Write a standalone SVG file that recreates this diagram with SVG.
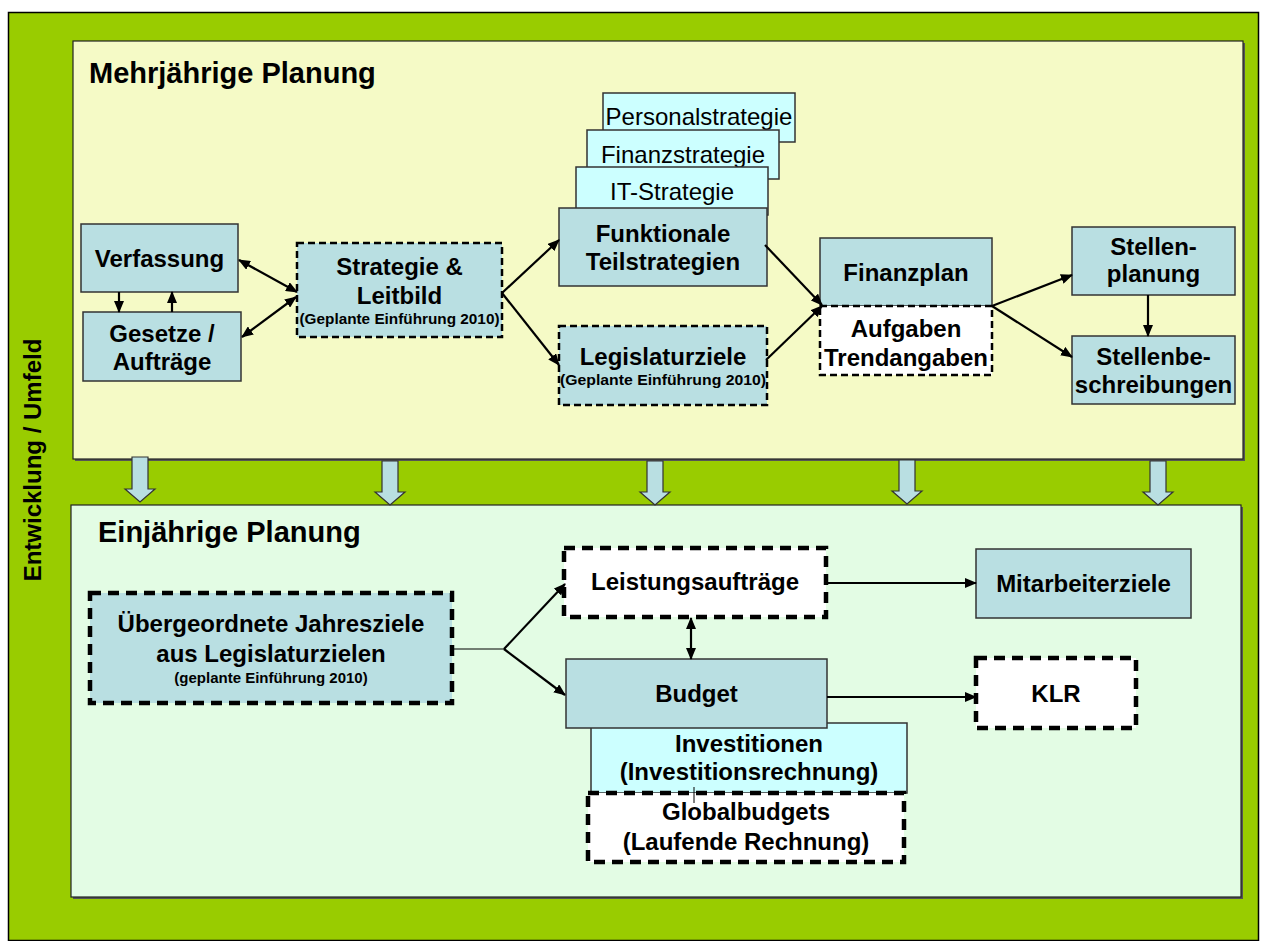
<svg xmlns="http://www.w3.org/2000/svg" width="1266" height="941" viewBox="0 0 1266 941">
<defs>
<marker id="ah" markerWidth="12" markerHeight="10" refX="11" refY="5" orient="auto" markerUnits="userSpaceOnUse">
<path d="M0,0 L12,5 L0,10 z" fill="#000"/>
</marker>
<marker id="as" markerWidth="12" markerHeight="10" refX="1" refY="5" orient="auto" markerUnits="userSpaceOnUse">
<path d="M12,0 L0,5 L12,10 z" fill="#000"/>
</marker>
<style>
text{font-family:"Liberation Sans",Arial,sans-serif;fill:#000}
.b{font-weight:bold;font-size:24px;text-anchor:middle}
.r{font-size:24px;text-anchor:middle}
.s{font-weight:bold;font-size:15px;text-anchor:middle}
.node{fill:#B9DFE2;stroke:#333;stroke-width:1.5}
.cyan{fill:#CCFFFF;stroke:#333;stroke-width:1.5}
.dash{fill:#B9DFE2;stroke:#000;stroke-width:2.5;stroke-dasharray:7,4}
.dashw{fill:#fff;stroke:#000;stroke-width:2.5;stroke-dasharray:7,4}
.thick{fill:#fff;stroke:#000;stroke-width:4.5;stroke-dasharray:11,7}
.thickb{fill:#B9DFE2;stroke:#000;stroke-width:4.5;stroke-dasharray:11,7}
.c{fill:none;stroke:#000;stroke-width:2.2}
.bl{fill:#B9DFE2;stroke:#333;stroke-width:1.2}
</style>
</defs>

<g id="background">
<rect x="8.5" y="12.5" width="1250" height="928" fill="#99CC00" stroke="#000" stroke-width="1.5"/>
<text transform="translate(41,460) rotate(-90)" class="b">Entwicklung / Umfeld</text>
</g>

<g id="panel-mehrjaehrig">
<rect x="75" y="43" width="1170" height="418" fill="#555"/>
<rect x="73" y="41" width="1170" height="418" fill="#F5FAC6" stroke="#222" stroke-width="1.2"/>
<text x="89" y="83" font-weight="bold" font-size="29">Mehrjährige Planung</text>
</g>

<g id="panel-einjaehrig">
<rect x="73" y="507" width="1170" height="392" fill="#555"/>
<rect x="71" y="505" width="1170" height="392" fill="#E3FCE4" stroke="#222" stroke-width="1.2"/>
<text x="98" y="542" font-weight="bold" font-size="29">Einjährige Planung</text>
</g>

<g id="block-arrows">
<polygon class="bl" points="132,457 148,457 148,489 155,489 140,502 125,489 132,489"/>
<polygon class="bl" points="382,461 398,461 398,492 405,492 390,505 375,492 382,492"/>
<polygon class="bl" points="647,461 663,461 663,492 670,492 655,505 640,492 647,492"/>
<polygon class="bl" points="899,460 915,460 915,491 922,491 907,504 892,491 899,491"/>
<polygon class="bl" points="1150,461 1166,461 1166,492 1173,492 1158,505 1143,492 1150,492"/>
</g>

<g id="node-verfassung">
<rect class="node" x="81" y="224" width="157" height="68"/>
<text class="b" x="159.5" y="267">Verfassung</text>
</g>
<g id="node-gesetze">
<rect class="node" x="83" y="312" width="158" height="69"/>
<text class="b" x="162" y="342">Gesetze /</text>
<text class="b" x="162" y="370">Aufträge</text>
</g>
<g id="node-strategie">
<rect class="dash" x="297" y="243" width="205" height="94"/>
<text class="b" x="399.5" y="275">Strategie &amp;</text>
<text class="b" x="399.5" y="304">Leitbild</text>
<text class="s" x="399.5" y="324" textLength="200" lengthAdjust="spacingAndGlyphs">(Geplante Einführung 2010)</text>
</g>
<g id="node-personalstrategie">
<rect class="cyan" x="603" y="93" width="192" height="49"/>
<text class="r" x="699" y="125">Personalstrategie</text>
</g>
<g id="node-finanzstrategie">
<rect class="cyan" x="587" y="130" width="192" height="49"/>
<text class="r" x="683" y="163">Finanzstrategie</text>
</g>
<g id="node-itstrategie">
<rect class="cyan" x="576" y="167" width="192" height="48"/>
<text class="r" x="672" y="200">IT-Strategie</text>
</g>
<g id="node-funktionale">
<rect class="node" x="559" y="208" width="208" height="78"/>
<text class="b" x="663" y="242">Funktionale</text>
<text class="b" x="663" y="270">Teilstrategien</text>
</g>
<g id="node-legislaturziele">
<rect class="dash" x="559" y="326" width="208" height="79"/>
<text class="b" x="663" y="365">Legislaturziele</text>
<text class="s" x="663" y="385" textLength="206" lengthAdjust="spacingAndGlyphs">(Geplante Einführung 2010)</text>
</g>
<g id="node-finanzplan">
<rect class="node" x="820" y="238" width="172" height="68"/>
<text class="b" x="906" y="281">Finanzplan</text>
</g>
<g id="node-aufgaben">
<rect class="dashw" x="820" y="306" width="172" height="69"/>
<text class="b" x="906" y="337">Aufgaben</text>
<text class="b" x="906" y="366">Trendangaben</text>
</g>
<g id="node-stellenplanung">
<rect class="node" x="1072" y="227" width="163" height="68"/>
<text class="b" x="1153.5" y="255">Stellen-</text>
<text class="b" x="1153.5" y="282">planung</text>
</g>
<g id="node-stellenbeschreibungen">
<rect class="node" x="1072" y="336" width="163" height="68"/>
<text class="b" x="1153.5" y="365">Stellenbe-</text>
<text class="b" x="1153.5" y="393">schreibungen</text>
</g>

<g id="node-jahresziele">
<rect class="thickb" x="90" y="593" width="362" height="110"/>
<text class="b" x="271" y="632">Übergeordnete Jahresziele</text>
<text class="b" x="271" y="662">aus Legislaturzielen</text>
<text class="s" x="271" y="683">(geplante Einführung 2010)</text>
</g>
<g id="node-leistungsauftraege">
<rect class="thick" x="564" y="548" width="262" height="69"/>
<text class="b" x="695" y="590">Leistungsaufträge</text>
</g>
<g id="node-investitionen">
<rect class="cyan" x="591" y="723" width="316" height="70"/>
<text class="b" x="749" y="752">Investitionen</text>
<text class="b" x="749" y="780">(Investitionsrechnung)</text>
</g>
<g id="node-budget">
<rect class="node" x="566" y="659" width="261" height="69"/>
<text class="b" x="696.5" y="702">Budget</text>
</g>
<g id="node-globalbudgets">
<rect class="thick" x="588" y="793" width="316" height="69"/>
<text class="b" x="746" y="820">Globalbudgets</text>
<text class="b" x="746" y="850">(Laufende Rechnung)</text>
</g>
<g id="node-mitarbeiterziele">
<rect class="node" x="976" y="549" width="215" height="69"/>
<text class="b" x="1083.5" y="592">Mitarbeiterziele</text>
</g>
<g id="node-klr">
<rect class="thick" x="976" y="658" width="160" height="70"/>
<text class="b" x="1056" y="702">KLR</text>
</g>

<g id="connectors">
<line class="c" x1="119" y1="292" x2="119" y2="312" marker-end="url(#ah)"/>
<line class="c" x1="172" y1="312" x2="172" y2="292" marker-end="url(#ah)"/>
<line class="c" x1="239" y1="260" x2="297" y2="292" marker-start="url(#as)" marker-end="url(#ah)"/>
<line class="c" x1="242" y1="337" x2="296" y2="297" marker-start="url(#as)" marker-end="url(#ah)"/>
<line class="c" x1="502" y1="293" x2="559" y2="240" marker-end="url(#ah)"/>
<line class="c" x1="502" y1="293" x2="559" y2="365" marker-end="url(#ah)"/>
<line class="c" x1="765" y1="245" x2="822" y2="305" marker-end="url(#ah)"/>
<line class="c" x1="766" y1="360" x2="822" y2="306" marker-end="url(#ah)"/>
<line class="c" x1="992" y1="306" x2="1072" y2="275" marker-end="url(#ah)"/>
<line class="c" x1="992" y1="306" x2="1072" y2="357" marker-end="url(#ah)"/>
<line class="c" x1="1148" y1="295" x2="1148" y2="336" marker-end="url(#ah)"/>
<line x1="452" y1="649" x2="504" y2="649" stroke="#000" stroke-width="1"/>
<line class="c" x1="504" y1="649" x2="565" y2="584" marker-end="url(#ah)"/>
<line class="c" x1="504" y1="649" x2="565" y2="695" marker-end="url(#ah)"/>
<line class="c" x1="691" y1="618" x2="691" y2="659" marker-start="url(#as)" marker-end="url(#ah)"/>
<line class="c" x1="826" y1="583" x2="976" y2="583" marker-end="url(#ah)"/>
<line class="c" x1="827" y1="697" x2="976" y2="697" marker-end="url(#ah)"/>
<line x1="694" y1="787" x2="694" y2="803" stroke="#000" stroke-width="1"/>
</g>
</svg>
